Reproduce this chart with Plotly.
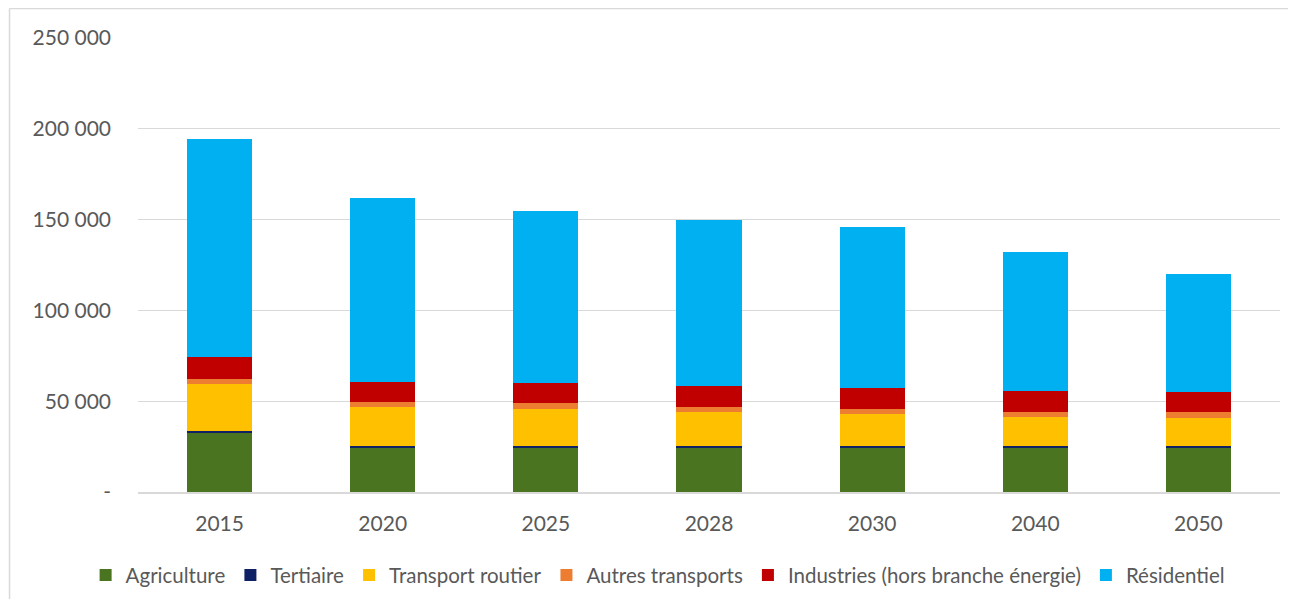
import plotly.graph_objects as go

years = ["2015", "2020", "2025", "2028", "2030", "2040", "2050"]
agriculture = [32300, 24000, 24000, 24000, 24000, 24000, 24000]
tertiaire = [1400, 1300, 1300, 1300, 1300, 1300, 1300]
transport_routier = [25800, 21500, 20400, 18700, 17700, 16000, 15500]
autres_transports = [2700, 2800, 3300, 3000, 2700, 2900, 3100]
industries = [12300, 11100, 11000, 11500, 11400, 11400, 11300]
residentiel = [119900, 101200, 94700, 91300, 88800, 76600, 64800]

series = [
    ("Agriculture", agriculture, "#4a7420"),
    ("Tertiaire", tertiaire, "#0e2164"),
    ("Transport routier", transport_routier, "#ffc000"),
    ("Autres transports", autres_transports, "#ed7d31"),
    ("Industries (hors branche énergie)", industries, "#c00000"),
    ("Résidentiel", residentiel, "#00b0f0"),
]

tick_vals = [0, 50000, 100000, 150000, 200000, 250000]
tick_text = ["-", "50 000", "100 000", "150 000", "200 000", "250 000"]

fig = go.Figure()
for name, vals, color in series:
    fig.add_trace(go.Bar(x=years, y=vals, name=name, marker_color=color,
                         marker_line_width=0))

border = dict(color="#d9d9d9", width=1.5)
fig.update_layout(
    barmode="stack",
    bargap=0.6,
    width=1280, height=591,
    autosize=False,
    paper_bgcolor="white", plot_bgcolor="white",
    margin=dict(l=130, r=8, t=30, b=107, autoexpand=False),
    font=dict(family="Lato, Carlito, sans-serif", size=21, color="#595959"),
    showlegend=True,
    legend=dict(orientation="h", x=0.455, xanchor="center", y=-0.183, yanchor="middle",
                font=dict(size=20.5, color="#595959"), itemwidth=30,
                traceorder="normal", itemclick=False),
    shapes=[
        dict(type="line", xref="paper", yref="paper",
             x0=-0.1125, x1=-0.1125, y0=-0.3, y1=1.065, line=border, layer="below"),
        dict(type="line", xref="paper", yref="paper",
             x0=-0.1125, x1=1.01, y0=1.065, y1=1.065, line=border, layer="below"),
    ],
)
fig.update_yaxes(range=[0, 250000], tickvals=tick_vals, ticktext=tick_text,
                 showgrid=True, gridcolor="#d9d9d9", gridwidth=1.2,
                 zeroline=False, showline=False, ticklabelstandoff=26,
                 automargin=False, fixedrange=True)
fig.update_xaxes(showline=True, linecolor="#d9d9d9", linewidth=1.5,
                 ticks="", ticklabelstandoff=12, automargin=False,
                 fixedrange=True)

fig.write_html("out.html")
